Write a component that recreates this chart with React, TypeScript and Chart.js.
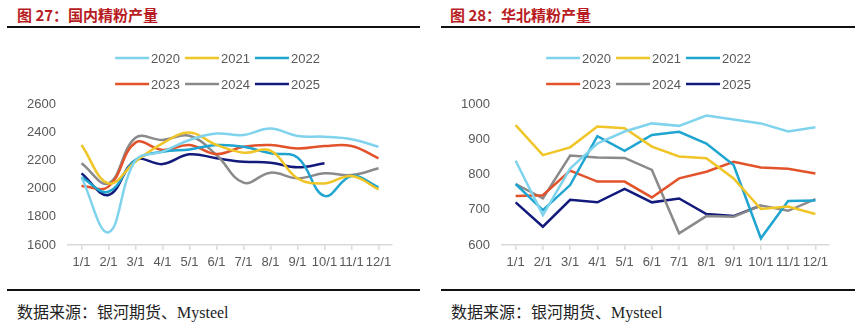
import React, { useEffect, useRef } from "react";
import { Chart, registerables } from "chart.js";

Chart.register(...registerables);

const months = ["1/1", "2/1", "3/1", "4/1", "5/1", "6/1", "7/1", "8/1", "9/1", "10/1", "11/1", "12/1"];
const seriesNames = ["2020", "2021", "2022", "2023", "2024", "2025"];
const seriesColors = ["#7fd3ec", "#f0c528", "#1fa5cf", "#e2532b", "#8a8a8a", "#121a7c"];

// 国内精粉产量
const national2020 = [2080, 1690, 2200, 2262, 2345, 2390, 2380, 2427, 2373, 2368, 2350, 2297];
const national2021 = [2309, 2037, 2191, 2321, 2397, 2310, 2255, 2269, 2073, 2037, 2089, 1995];
const national2022 = [2080, 1978, 2203, 2262, 2278, 2309, 2297, 2250, 2220, 1948, 2090, 2009];
const national2023 = [2018, 2014, 2326, 2274, 2309, 2245, 2297, 2309, 2285, 2302, 2302, 2215];
const national2024 = [2179, 2037, 2361, 2345, 2375, 2238, 2042, 2113, 2073, 2108, 2096, 2144];
const national2025 = [2108, 1955, 2203, 2174, 2243, 2215, 2191, 2184, 2151, 2179, null, null];

// 华北精粉产量
const north2020 = [839, 685, 817, 888, 922, 945, 938, 967, 956, 945, 922, 934];
const north2021 = [940, 855, 877, 936, 931, 879, 851, 846, 789, 702, 709, 688];
const north2022 = [773, 699, 770, 909, 867, 912, 921, 888, 827, 619, 725, 726];
const north2023 = [739, 741, 811, 780, 780, 735, 789, 808, 836, 820, 816, 803];
const north2024 = [773, 732, 854, 848, 847, 813, 633, 682, 680, 712, 697, 730];
const north2025 = [721, 652, 728, 721, 759, 721, 732, 688, 682, 712, null, null];

const nationalTicks = [1600, 2600, 200];
const northTicks = [600, 1000, 100];

const FONT = "'Liberation Sans', Arial, 'Noto Sans CJK SC', sans-serif";
const TEXT_GRAY = "#595959";

const lineLegend = {
  id: "lineLegend",
  afterDraw(chart: any) {
    const ctx = chart.ctx;
    const ds = chart.data.datasets;
    const lineW = 34;
    const gap = 2;
    const itemGap = 5;
    const perRow = 3;
    const rowY = [28, 54];
    ctx.save();
    ctx.font = "13px " + FONT;
    ctx.textBaseline = "middle";
    ctx.textAlign = "left";
    for (let r = 0; r * perRow < ds.length; r++) {
      const row = ds.slice(r * perRow, r * perRow + perRow);
      const widths = row.map((d: any) => lineW + gap + ctx.measureText(d.label).width);
      const total = widths.reduce((a: number, b: number) => a + b, 0) + itemGap * (row.length - 1);
      let x = (chart.width - total) / 2;
      const y = rowY[r];
      row.forEach((d: any, i: number) => {
        ctx.strokeStyle = d.borderColor;
        ctx.lineWidth = 2.5;
        ctx.beginPath();
        ctx.moveTo(x, y);
        ctx.lineTo(x + lineW, y);
        ctx.stroke();
        ctx.fillStyle = TEXT_GRAY;
        ctx.fillText(d.label, x + lineW + gap, y + 1);
        x += widths[i] + itemGap;
      });
    }
    ctx.restore();
  },
};

type Props = {
  series: (number | null)[][];
  ticks: number[];
  tension: number;
  width: number;
  height: number;
  rightPad: number;
  left: number;
  top: number;
};

function LineChart({ series, ticks, tension, width, height, rightPad, left, top }: Props) {
  const ref = useRef<HTMLCanvasElement | null>(null);
  useEffect(() => {
    if (!ref.current) return;
    const chart = new Chart(ref.current, {
      type: "line",
      data: {
        labels: months,
        datasets: series.map((vals, i) => ({
          label: seriesNames[i],
          data: vals,
          borderColor: seriesColors[i],
          backgroundColor: seriesColors[i],
          borderWidth: 2.5,
          pointRadius: 0,
          pointHoverRadius: 0,
          tension: tension,
          fill: false,
        })),
      },
      options: {
        animation: false,
        responsive: false,
        devicePixelRatio: 1,
        layout: { padding: { top: 74, right: rightPad, left: 0, bottom: 0 } },
        plugins: {
          legend: { display: false },
          tooltip: { enabled: false },
        },
        scales: {
          x: {
            offset: true,
            grid: {
              display: true,
              drawOnChartArea: false,
              drawTicks: true,
              tickLength: 5,
              color: "#d9d9d9",
              lineWidth: 1.5,
            },
            border: { display: true, color: "#d9d9d9", width: 1.5 },
            ticks: {
              color: TEXT_GRAY,
              font: { size: 13, family: FONT },
              padding: 5,
              autoSkip: false,
              maxRotation: 0,
              minRotation: 0,
            },
            afterFit: (s: any) => {
              s.height = 43;
            },
          },
          y: {
            min: ticks[0],
            max: ticks[1],
            grid: { display: false, drawTicks: false },
            border: { display: false },
            ticks: {
              stepSize: ticks[2],
              color: TEXT_GRAY,
              font: { size: 13, family: FONT },
              padding: 12,
              callback: (v: any) => String(v),
            },
            afterFit: (s: any) => {
              s.width = 61;
            },
          },
        },
      },
      plugins: [lineLegend],
    });
    return () => chart.destroy();
  }, []);
  return (
    <canvas
      ref={ref}
      width={width}
      height={height}
      style={{ position: "absolute", left, top, width, height }}
    />
  );
}

const titleStyle: React.CSSProperties = {
  position: "absolute",
  top: 5,
  fontFamily: "'Noto Sans CJK SC', sans-serif",
  fontWeight: 700,
  fontSize: 15,
  lineHeight: "20px",
  color: "#b81c22",
  whiteSpace: "nowrap",
};

const sourceStyle: React.CSSProperties = {
  position: "absolute",
  top: 303,
  fontFamily: "'Liberation Serif', 'Noto Sans CJK SC', serif",
  fontSize: 16,
  lineHeight: "20px",
  color: "#222",
  whiteSpace: "nowrap",
};

function Rule({ left, top, width }: { left: number; top: number; width: number }) {
  return <div style={{ position: "absolute", left, top, width, height: 2, background: "#111" }} />;
}

export default function App() {
  return (
    <div style={{ position: "absolute", left: 0, top: 0, width: 860, height: 332, background: "#fff", overflow: "hidden" }}>
      <div style={{ ...titleStyle, left: 17 }}>图 27：国内精粉产量</div>
      <div style={{ ...titleStyle, left: 450 }}>图 28：华北精粉产量</div>
      <Rule left={7} top={26} width={413} />
      <Rule left={441} top={26} width={414} />
      <LineChart
        series={[national2020, national2021, national2022, national2023, national2024, national2025]}
        ticks={nationalTicks}
        tension={0.4}
        width={421}
        height={258}
        rightPad={36}
        left={7}
        top={30}
      />
      <LineChart
        series={[north2020, north2021, north2022, north2023, north2024, north2025]}
        ticks={northTicks}
        tension={0}
        width={415}
        height={258}
        rightPad={27}
        left={441}
        top={30}
      />
      <Rule left={7} top={289} width={413} />
      <Rule left={441} top={289} width={414} />
      <div style={{ ...sourceStyle, left: 17 }}>数据来源：银河期货、Mysteel</div>
      <div style={{ ...sourceStyle, left: 451 }}>数据来源：银河期货、Mysteel</div>
    </div>
  );
}
